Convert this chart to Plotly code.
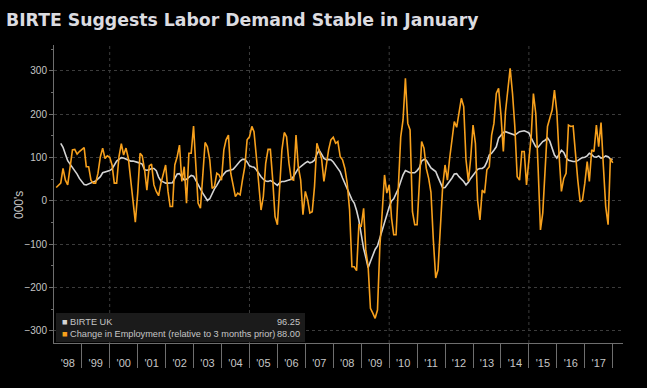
import plotly.graph_objects as go
import pandas as pd

# ---------------- data (monthly, starting Jan 1998) ----------------
start_month = "1998-01-01"

birte_uk = [
    None, None, None, 133, 124, 108, 93, 85, 78, 70, 62, 52,          # 1998
    45, 38, 37, 40, 42, 44, 46, 50, 56, 65, 67, 68,                    # 1999
    70, 74, 83, 92, 96, 100, 99, 96, 93, 92, 92, 91,                   # 2000
    89, 87, 85, 72, 71, 72, 75, 75, 70, 55, 46, 44,                    # 2001
    41, 41, 41, 42, 52, 62, 63, 55, 48, 50, 55, 59,                    # 2002
    57, 48, 38, 28, 18, 8, 1, 5, 18, 28, 36, 47,                       # 2003
    55, 62, 68, 70, 71, 73, 79, 86, 92, 96, 96, 90,                    # 2004
    81, 79, 78, 72, 63, 56, 50, 46, 45, 47, 44, 40,                    # 2005
    36, 42, 45, 45, 47, 49, 50, 57, 68, 75, 79, 84,                    # 2006
    88, 91, 88, 90, 94, 108, 117, 108, 98, 95, 96, 95,                 # 2007
    90, 82, 74, 67, 53, 40, 25, 14, 3, -5, -22, -45,                   # 2008
    -80, -110, -130, -154, -140, -125, -112, -104, -85, -65, -47, -30, # 2009
    -14, 0, 5, 17, 28, 45, 60, 70, 67, 65, 65, 65,                     # 2010
    70, 77, 92, 96, 94, 85, 76, 72, 68, 55, 40, 30,                    # 2011
    31, 38, 45, 53, 62, 63, 56, 51, 45, 37, 43, 52,                    # 2012
    60, 66, 73, 75, 75, 79, 90, 106, 110, 117, 125, 145,               # 2013
    153, 158, 160, 158, 155, 153, 152, 156, 160, 161, 162, 160,        # 2014
    157, 145, 135, 125, 124, 130, 137, 140, 146, 138, 122, 106,        # 2015
    99, 110, 117, 112, 100, 94, 92, 91, 91, 93, 97, 100,               # 2016
    101, 104, 110, 107, 102, 101, 104, 99, 100, 104, 102, 97,          # 2017
    96.25,                                                             # 2018
]

employment_change = [
    None, 31, 36, 41, 75, 48, 37, 75, 118, 119, 108, 114,              # 1998
    118, 123, 79, 79, 48, 41, 41, 64, 102, 122, 98, 104,               # 1999
    101, 83, 41, 41, 102, 132, 106, 122, 98, 48, -13, -49,             # 2000
    18, 110, 104, 72, 25, 81, 85, 37, 22, 12, 41, 64,                  # 2001
    83, 22, -13, -13, 83, 102, 129, 45, 79, -5, 110, 110,              # 2002
    173, 79, -5, -17, 48, 135, 125, 95, 29, 33, 64, 60,                # 2003
    48, 118, 141, 152, 64, 33, 10, 18, 14, 48, 79, 141,                # 2004
    148, 172, 160, 102, 41, -21, 10, 87, 119, 119, 48, -36,            # 2005
    -55, 48, 118, 158, 148, 87, 50, 48, 152, 79, 48, -32,              # 2006
    22, 2, -28, -25, 33, 133, 118, 98, 45, 87, 118, 141,               # 2007
    147, 133, 137, 102, 95, 75, 41, -20, -152, -152, -161, -55,        # 2008
    -58, -17, -113, -152, -248, -259, -271, -252, -105, -28, 60, 18,   # 2009
    37, -40, -78, -78, 25, 148, 187, 283, 179, 164, -25, -55,          # 2010
    -55, 48, 137, 122, 75, 52, 20, -90, -178, -159, -50, 33,           # 2011
    83, 48, 98, 141, 183, 170, 206, 237, 218, 95, 45, 98,              # 2012
    175, 133, 2, -44, 25, 18, 72, 79, 152, 179, 248, 260,              # 2013
    198, 114, 206, 256, 306, 248, 172, 56, 48, 114, 114, 37,           # 2014
    95, 152, 248, 202, 79, -67, -28, 68, 172, 191, 210, 256,           # 2015
    206, 102, 22, 52, 64, 175, 172, 173, 106, 48, -2, 2,               # 2016
    41, 91, 45, 118, 114, 175, 125, 181, 79, -13, -55, 98,             # 2017
    88.00,                                                             # 2018
]

series_names = ["BIRTE UK", "Change in Employment (relative to 3 months prior)"]
y_tick_values = [-300, -200, -100, 0, 100, 200, 300]
grid_years = ["2000-01-01", "2005-01-01", "2010-01-01", "2015-01-01"]
x_range = ["1998-01-03", "2018-05-15"]
y_range = [-328, 360]

dates = pd.date_range(start_month, periods=len(birte_uk), freq="MS")

# ---------------- styling ----------------
W, H = 647, 388
ML, MR, MT, MB = 54, 24, 45, 45
PW, PH = W - ML - MR, H - MT - MB

def px_x(px):
    return (px - ML) / PW

def px_y(py):
    return (H - MB - py) / PH

WHITE = "#d4d4d4"
ORANGE = "#f7a01c"
TXT = "#c6c6c6"
AXIS = "#6e6e6e"
GRID = "#3c3c3c"
FONT = "Liberation Sans, Arial, sans-serif"

fig = go.Figure()
fig.add_trace(go.Scatter(x=dates, y=birte_uk, mode="lines", name=series_names[0],
                         line=dict(color=WHITE, width=1.6)))
fig.add_trace(go.Scatter(x=dates, y=employment_change, mode="lines", name=series_names[1],
                         line=dict(color=ORANGE, width=1.6)))

shapes = []
for gy in grid_years:
    shapes.append(dict(type="line", xref="x", yref="paper", x0=gy, x1=gy, y0=0, y1=1,
                       line=dict(color=GRID, width=1, dash="dot"), layer="below"))
# legend box
shapes.append(dict(type="rect", xref="paper", yref="paper",
                   x0=px_x(56), x1=px_x(305), y0=px_y(342), y1=px_y(313),
                   fillcolor="#1b1b1b", line=dict(width=0), layer="above"))

legend_colors = [WHITE, ORANGE]
legend_last = [birte_uk[-1], employment_change[-1]]

legend_left = "<br>".join(
    f"<span style='color:{c}'>■</span> {n}" for n, c in zip(series_names, legend_colors))
legend_right = "<br>".join(f"{v:.2f}" for v in legend_last)

annotations = [
    dict(text="000's", textangle=-90, xref="paper", yref="paper",
         x=px_x(19), y=px_y(205), xanchor="center", yanchor="middle",
         showarrow=False, font=dict(family=FONT, size=12, color=TXT)),
    dict(text=legend_left, xref="paper", yref="paper", align="left",
         x=px_x(60), y=px_y(327.5), xanchor="left", yanchor="middle", showarrow=False,
         font=dict(family=FONT, size=9.2, color=TXT)),
    dict(text=legend_right, xref="paper", yref="paper", align="right",
         x=px_x(302), y=px_y(327.5), xanchor="right", yanchor="middle", showarrow=False,
         font=dict(family=FONT, size=9.2, color=TXT)),
]

fig.update_layout(
    width=W, height=H,
    paper_bgcolor="black", plot_bgcolor="black",
    margin=dict(l=ML, r=MR, t=MT, b=MB),
    showlegend=False,
    title=dict(text="<b>BIRTE Suggests Labor Demand Stable in January</b>",
               x=6 / W, xanchor="left", y=1 - 20 / H, yanchor="middle",
               font=dict(family="DejaVu Sans", size=17.3, color="#dcdce0")),
    shapes=shapes,
    annotations=annotations,
    xaxis=dict(type="date", range=x_range, dtick="M12", tick0=start_month,
               tickformat="'%y", ticklabelmode="period",
               ticks="outside", ticklen=24, tickcolor=AXIS, tickwidth=1,
               ticklabelstandoff=-14,
               showline=True, linecolor=AXIS, linewidth=1,
               showgrid=False, zeroline=False,
               tickfont=dict(family=FONT, size=11, color=TXT)),
    yaxis=dict(range=y_range, tickvals=y_tick_values,
               ticks="outside", ticklen=4, tickcolor=AXIS,
               showline=True, linecolor=AXIS, linewidth=1,
               showgrid=True, gridcolor=GRID, griddash="dot", gridwidth=1,
               zeroline=False,
               minor=dict(dtick=50, tick0=0, ticks="outside", ticklen=2, tickcolor=AXIS, showgrid=False),
               tickfont=dict(family=FONT, size=10, color=TXT)),
)

fig.write_html("out.html", config={"displayModeBar": False},
               post_script="document.body.style.margin='0px';")
